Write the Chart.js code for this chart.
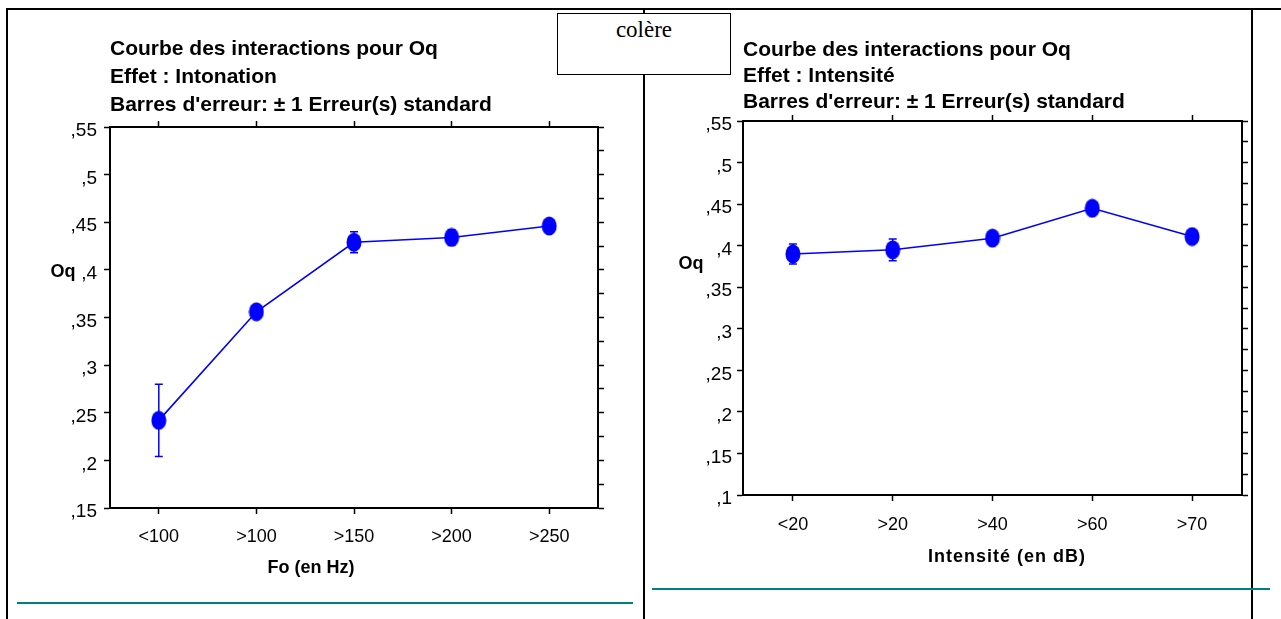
<!DOCTYPE html>
<html>
<head>
<meta charset="utf-8">
<script src="https://cdn.jsdelivr.net/npm/chart.js@4.4.0/dist/chart.umd.min.js"></script>
<style>
    body {
        margin: 0;
        width: 1281px;
        height: 619px;
        background: #fff;
        position: relative;
        overflow: hidden;
        font-family: Arial, "Liberation Sans", sans-serif;
    }
    .ln { position: absolute; background: #000; }
    .teal { position: absolute; background: #008080; height: 2px; }
    canvas { position: absolute; top: 0; }
    .box {
        position: absolute;
        left: 557px; top: 13px; width: 172px; height: 60px;
        border: 1.5px solid #000;
        background: #fff;
        font-family: "Liberation Serif", "Times New Roman", serif;
        font-size: 23px;
        text-align: center;
        line-height: 32px;
        z-index: 5;
    }
</style>
</head>
<body>
    <!-- page frame -->
    <div class="ln" style="left:6px; top:8px; width:1275px; height:2px;"></div>
    <div class="ln" style="left:6px; top:8px; width:2px; height:611px;"></div>
    <div class="ln" style="left:643px; top:8px; width:2px; height:611px;"></div>
    <div class="ln" style="left:1251px; top:8px; width:2px; height:611px;"></div>
    <div class="teal" style="left:17px; top:602px; width:616px;"></div>
    <div class="teal" style="left:652px; top:588px; width:618px;"></div>
    <div class="box">colère</div>

    <canvas id="c1" width="640" height="619" style="left:0px;"></canvas>
    <canvas id="c2" width="635" height="619" style="left:646px;"></canvas>

<script>
// Intonation (Fo)
var foLabels = ['<100', '>100', '>150', '>200', '>250'];
var foOq = [0.242, 0.356, 0.429, 0.434, 0.446];
var foErr = [0.038, 0.005, 0.011, 0.008, 0.004];

// Intensité
var intLabels = ['<20', '>20', '>40', '>60', '>70'];
var intOq = [0.390, 0.395, 0.409, 0.445, 0.411];
var intErr = [0.012, 0.013, 0.006, 0.007, 0.005];

var foTicks = [0.15, 0.55];
var intTicks = [0.10, 0.55];

var FONT = 'Arial, "Liberation Sans", sans-serif';
var BLUE = '#0000ff';

// ellipse marker
var dot = document.createElement('canvas');
dot.width = 16; dot.height = 20;
var dctx = dot.getContext('2d');
dctx.fillStyle = BLUE;
dctx.beginPath();
dctx.ellipse(8, 10, 7.5, 9.5, 0, 0, Math.PI * 2);
dctx.fill();

function fmt(v) {
    var r = Math.round(v * 1000);
    if (r % 50 !== 0) return '';
    return String(r / 1000).replace(/^0\./, ',');
}

var errorBars = {
    id: 'errorBars',
    beforeDatasetsDraw: function(chart, args, opts) {
        var meta = chart.getDatasetMeta(0);
        var ys = chart.scales.y;
        var data = chart.data.datasets[0].data;
        var ctx = chart.ctx;
        ctx.save();
        ctx.strokeStyle = BLUE;
        ctx.lineWidth = 1.5;
        meta.data.forEach(function(pt, i) {
            var yt = ys.getPixelForValue(data[i] + opts.err[i]);
            var yb = ys.getPixelForValue(data[i] - opts.err[i]);
            ctx.beginPath();
            ctx.moveTo(pt.x, yt); ctx.lineTo(pt.x, yb);
            ctx.moveTo(pt.x - 4, yt); ctx.lineTo(pt.x + 4, yt);
            ctx.moveTo(pt.x - 4, yb); ctx.lineTo(pt.x + 4, yb);
            ctx.stroke();
        });
        ctx.restore();
    }
};

// "Oq" is horizontal and the x title sits off-centre in the original
var axisLabels = {
    id: 'axisLabels',
    afterDraw: function(chart, args, opts) {
        var ctx = chart.ctx;
        ctx.save();
        ctx.font = 'bold 18px ' + FONT;
        ctx.fillStyle = '#000';
        ctx.textAlign = 'center';
        ctx.textBaseline = 'middle';
        ctx.fillText('Oq', opts.oqX, opts.oqY);
        if ('letterSpacing' in ctx) ctx.letterSpacing = opts.spacing + 'px';
        ctx.fillText(opts.xText, opts.xX, opts.xY);
        ctx.restore();
    }
};

function makeChart(id, o) {
    var axisBase = {
        border: { display: true, color: '#000', width: 2 },
        grid: { display: true, drawOnChartArea: false, drawTicks: true, tickLength: 6, tickWidth: 1.5, tickColor: '#000' }
    };
    return new Chart(document.getElementById(id), {
        type: 'line',
        data: {
            labels: o.labels,
            datasets: [{
                data: o.values,
                borderColor: BLUE,
                borderWidth: 1.6,
                pointStyle: dot,
                pointRadius: 9,
                tension: 0,
                fill: false
            }]
        },
        plugins: [errorBars, axisLabels],
        options: {
            responsive: false,
            animation: false,
            layout: { padding: { left: 0, top: 0, right: o.padRight, bottom: o.padBottom } },
            plugins: {
                legend: { display: false },
                tooltip: { enabled: false },
                title: {
                    display: true,
                    text: o.title,
                    align: 'start',
                    fullSize: false,
                    color: '#000',
                    font: { family: FONT, size: 21, weight: 'bold', lineHeight: o.titleLH + 'px' },
                    padding: { top: o.titleTop, bottom: o.titleBottom }
                },
                errorBars: { err: o.err },
                axisLabels: o.axisText
            },
            scales: {
                x: Object.assign({}, axisBase, {
                    type: 'category', position: 'bottom', offset: true,
                    ticks: { color: '#000', padding: o.xPad, font: { family: FONT, size: 18 }, maxRotation: 0 },
                    afterFit: function(s) { s.height = 80; }
                }),
                x2: Object.assign({}, axisBase, {
                    type: 'category', position: 'top', offset: true, labels: o.labels,
                    ticks: { display: false },
                    afterFit: function(s) { s.height = 6; }
                }),
                y: Object.assign({}, axisBase, {
                    type: 'linear', position: 'left', min: o.range[0], max: o.range[1],
                    ticks: { stepSize: 0.025, color: '#000', padding: o.yPad, labelOffset: 4, font: { family: FONT, size: 19 }, callback: function(v) { return fmt(v); } },
                    afterFit: function(s) { s.width = o.yWidth; }
                }),
                y2: Object.assign({}, axisBase, {
                    type: 'linear', position: 'right', min: o.range[0], max: o.range[1],
                    ticks: { display: false, stepSize: 0.025 },
                    afterFit: function(s) { s.width = 6; }
                })
            }
        }
    });
}

makeChart('c1', {
    labels: foLabels, values: foOq, err: foErr, range: foTicks,
    title: ['Courbe des interactions pour Oq', 'Effet : Intonation', "Barres d'erreur: ± 1 Erreur(s) standard"],
    titleLH: 28, titleTop: 35, titleBottom: 2,
    xPad: 12,
    yWidth: 110, yPad: 7, padRight: 36, padBottom: 31,
    axisText: { oqX: 63, oqY: 272, xText: 'Fo (en Hz)', xX: 311, xY: 568, spacing: 0 }
});

makeChart('c2', {
    labels: intLabels, values: intOq, err: intErr, range: intTicks,
    title: ['Courbe des interactions pour Oq', 'Effet : Intensité', "Barres d'erreur: ± 1 Erreur(s) standard"],
    titleLH: 26, titleTop: 37, titleBottom: 0,
    xPad: 13,
    yWidth: 97, yPad: 5, padRight: 33, padBottom: 44,
    axisText: { oqX: 45, oqY: 264, xText: 'Intensité (en dB)', xX: 361, xY: 557, spacing: 1 }
});
</script>
</body>
</html>
